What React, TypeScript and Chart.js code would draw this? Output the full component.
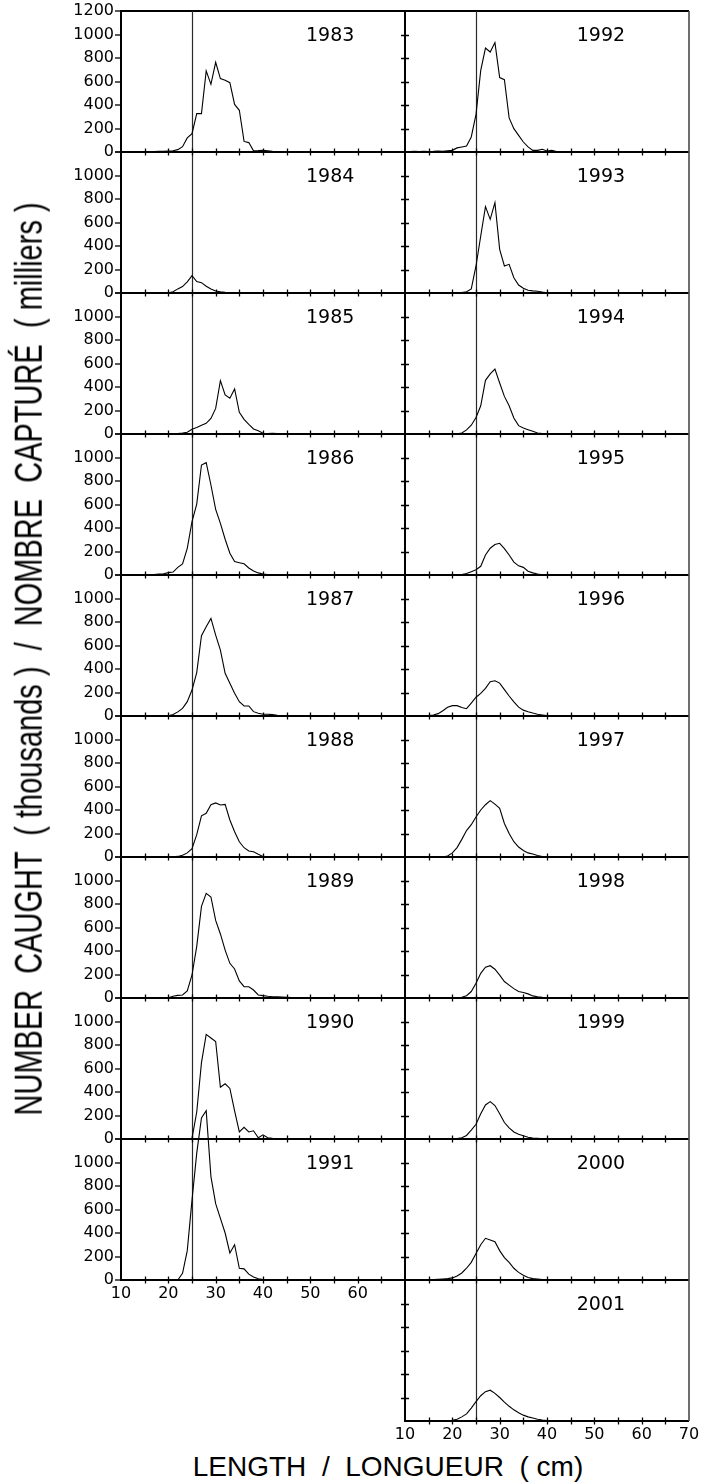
import React, { useEffect, useRef } from "react";
import { Chart, registerables } from "chart.js";

Chart.register(...registerables);

// ---------- DATA ----------
const LENGTHS = [10, 11, 12, 13, 14, 15, 16, 17, 18, 19, 20, 21, 22, 23, 24, 25, 26, 27, 28, 29, 30, 31, 32, 33, 34, 35, 36, 37, 38, 39, 40, 41, 42, 43, 44, 45, 46, 47];

const LEFT_YEARS = ["1983", "1984", "1985", "1986", "1987", "1988", "1989", "1990", "1991"];
const RIGHT_YEARS = ["1992", "1993", "1994", "1995", "1996", "1997", "1998", "1999", "2000", "2001"];

const Y1983 = [0, 0, 0, 0, 0, 0, 2, 3, 5, 5, 8, 10, 20, 45, 120, 156, 327, 327, 690, 576, 763, 625, 610, 590, 405, 355, 90, 80, 10, 12, 15, 10, 5, 3, 1, 0, 0, 0];
const Y1984 = [0, 0, 0, 0, 0, 0, 0, 0, 0, 0, 2, 10, 35, 55, 95, 147, 98, 88, 58, 35, 17, 10, 5, 3, 2, 1, 0, 0, 0, 0, 0, 0, 0, 0, 0, 0, 0, 0];
const Y1985 = [0, 0, 0, 0, 0, 0, 0, 0, 0, 0, 0, 2, 4, 8, 15, 40, 55, 75, 91, 133, 218, 454, 333, 305, 383, 184, 125, 82, 43, 28, 6, 3, 5, 3, 1, 0, 0, 0];
const Y1986 = [0, 0, 0, 0, 0, 0, 0, 3, 9, 10, 20, 25, 65, 94, 227, 454, 604, 936, 956, 766, 559, 440, 304, 185, 115, 105, 95, 60, 35, 18, 8, 4, 2, 0, 0, 0, 0, 0];
const Y1987 = [0, 0, 0, 0, 0, 0, 0, 0, 0, 0, 2, 12, 35, 65, 122, 221, 370, 684, 760, 831, 689, 560, 363, 278, 193, 122, 85, 85, 37, 23, 15, 15, 12, 5, 2, 0, 0, 0];
const Y1988 = [0, 0, 0, 0, 0, 0, 0, 0, 0, 0, 0, 2, 5, 15, 35, 70, 190, 350, 372, 445, 460, 443, 448, 315, 215, 130, 79, 51, 45, 23, 5, 1, 0, 0, 0, 0, 0, 0];
const Y1989 = [0, 0, 0, 0, 0, 0, 0, 0, 0, 0, 2, 15, 22, 26, 60, 196, 440, 780, 891, 860, 660, 545, 408, 295, 247, 145, 96, 96, 68, 26, 20, 15, 11, 10, 8, 6, 3, 0];
const Y1990 = [0, 0, 0, 0, 0, 0, 0, 0, 0, 0, 0, 0, 0, 0, 0, 5, 230, 650, 890, 860, 830, 440, 470, 430, 240, 60, 100, 60, 70, 10, 35, 10, 5, 3, 0, 0, 0, 0];
const Y1991 = [0, 0, 0, 0, 0, 0, 0, 0, 0, 0, 0, 0, 0, 57, 250, 680, 1080, 1380, 1441, 880, 650, 525, 400, 230, 300, 100, 95, 50, 25, 10, 3, 0, 0, 0, 0, 0, 0, 0];

const Y1992 = [0, 3, 5, 3, 5, 3, 5, 8, 5, 10, 14, 35, 43, 51, 128, 320, 695, 885, 851, 931, 633, 616, 290, 199, 142, 85, 43, 14, 14, 23, 9, 14, 3, 0, 0, 0, 0, 0];
const Y1993 = [0, 0, 0, 0, 0, 0, 0, 0, 0, 0, 0, 0, 3, 10, 35, 230, 485, 735, 627, 769, 372, 230, 244, 130, 68, 40, 23, 18, 15, 8, 2, 0, 0, 0, 0, 0, 0, 0];
const Y1994 = [0, 0, 0, 0, 0, 0, 0, 0, 0, 0, 0, 2, 9, 35, 75, 140, 240, 457, 511, 553, 434, 320, 241, 136, 71, 51, 37, 23, 9, 3, 0, 0, 0, 0, 0, 0, 0, 0];
const Y1995 = [0, 0, 0, 0, 0, 0, 0, 0, 0, 0, 0, 0, 4, 12, 28, 45, 74, 170, 228, 260, 270, 225, 170, 110, 78, 65, 32, 18, 8, 2, 0, 0, 0, 0, 0, 0, 0, 0];
const Y1996 = [0, 0, 0, 0, 0, 3, 8, 20, 45, 75, 88, 88, 72, 62, 110, 160, 193, 235, 292, 300, 280, 225, 170, 120, 75, 50, 37, 25, 15, 9, 3, 0, 0, 0, 0, 0, 0, 0];
const Y1997 = [0, 0, 0, 0, 0, 0, 0, 0, 2, 8, 35, 80, 150, 225, 275, 340, 400, 445, 480, 450, 415, 285, 200, 130, 85, 55, 35, 25, 12, 4, 0, 0, 0, 0, 0, 0, 0, 0];
const Y1998 = [0, 0, 0, 0, 0, 0, 0, 0, 0, 0, 0, 2, 6, 20, 55, 125, 210, 262, 275, 245, 195, 140, 110, 80, 55, 47, 35, 18, 10, 6, 3, 0, 0, 0, 0, 0, 0, 0];
const Y1999 = [0, 0, 0, 0, 0, 0, 0, 0, 0, 0, 0, 3, 10, 30, 75, 125, 215, 290, 318, 285, 215, 140, 95, 60, 40, 28, 15, 8, 5, 2, 0, 0, 0, 0, 0, 0, 0, 0];
const Y2000 = [0, 0, 0, 0, 0, 0, 3, 6, 9, 12, 18, 35, 60, 100, 150, 225, 300, 355, 340, 326, 250, 190, 150, 100, 65, 40, 22, 12, 9, 4, 0, 0, 0, 0, 0, 0, 0, 0];
const Y2001 = [0, 0, 0, 0, 0, 0, 0, 0, 0, 2, 6, 15, 35, 60, 110, 165, 215, 250, 262, 235, 200, 160, 125, 95, 70, 50, 35, 25, 15, 8, 4, 0, 0, 0, 0, 0, 0, 0];

const LEFT_SERIES = [Y1983, Y1984, Y1985, Y1986, Y1987, Y1988, Y1989, Y1990, Y1991];
const RIGHT_SERIES = [Y1992, Y1993, Y1994, Y1995, Y1996, Y1997, Y1998, Y1999, Y2000, Y2001];

const X_MIN = 10;
const X_MAX = 70;
const Y_MAX = 1200;
const REF_LENGTH = 25;
const X_MINOR_TICKS = [15, 20, 25, 30, 35, 40, 45, 50, 55, 60, 65];
const Y_BOUNDARY_TICKS = [200, 400, 600, 800, 1000];
const YEAR_LABEL_VALUE = 985;

const Y_TITLE = "NUMBER  CAUGHT  ( thousands )  /  NOMBRE  CAPTURÉ  ( milliers )";
const X_TITLE = "LENGTH  /  LONGUEUR  ( cm)";

// ---------- STYLE ----------
const TICK_FONT = "'DejaVu Sans', 'Liberation Sans', Arial, sans-serif";
const TITLE_FONT = "'Liberation Sans', Arial, sans-serif";

const decorPlugin = {
  id: "decor",
  beforeDatasetsDraw(chart: any, _a: any, o: any) {
    const { ctx, chartArea } = chart;
    const xs = chart.scales.x;
    const px = Math.round(xs.getPixelForValue(o.refLength)) + 0.5;
    ctx.save();
    ctx.strokeStyle = "#2a2a2a";
    ctx.lineWidth = 1.2;
    ctx.beginPath();
    ctx.moveTo(px, chartArea.top);
    ctx.lineTo(px, chartArea.bottom);
    ctx.stroke();
    ctx.restore();
  },
  afterDatasetsDraw(chart: any, _a: any, o: any) {
    const { ctx, chartArea } = chart;
    const xs = chart.scales.x;
    ctx.save();
    ctx.strokeStyle = "#000";
    ctx.lineWidth = 1.3;
    (o.years as string[]).forEach((yr, i) => {
      const ys = chart.scales["y" + i];
      const y0 = ys.getPixelForValue(0);
      ctx.beginPath();
      for (const v of X_MINOR_TICKS) {
        const p = Math.round(xs.getPixelForValue(v)) + 0.5;
        ctx.moveTo(p, y0 - 3.5);
        ctx.lineTo(p, y0 + 3.5);
      }
      ctx.stroke();
      if (o.boundaryTicks) {
        ctx.beginPath();
        for (const v of Y_BOUNDARY_TICKS) {
          const p = Math.round(ys.getPixelForValue(v)) + 0.5;
          ctx.moveTo(chartArea.left - 4, p);
          ctx.lineTo(chartArea.left + 4, p);
        }
        ctx.stroke();
      }
      ctx.save();
      ctx.font = `19px ${TICK_FONT}`;
      ctx.fillStyle = "#000";
      ctx.textAlign = "center";
      ctx.textBaseline = "middle";
      ctx.fillText(yr, xs.getPixelForValue(o.yearX), ys.getPixelForValue(YEAR_LABEL_VALUE));
      ctx.restore();
    });
    if (o.rightBorder) {
      ctx.strokeStyle = "#4a4a4a";
      ctx.lineWidth = 1.6;
      ctx.beginPath();
      ctx.moveTo(chartArea.right, chartArea.top);
      ctx.lineTo(chartArea.right, chartArea.bottom);
      ctx.stroke();
    }
    ctx.restore();
  },
};

function buildConfig(
  years: string[],
  series: number[][],
  isLeft: boolean,
  yAxisWidth: number,
  padRight: number
): any {
  const scales: any = {
    x: {
      type: "linear",
      position: "bottom",
      min: X_MIN,
      max: X_MAX,
      grid: { display: false, drawTicks: false },
      border: { display: false },
      ticks: {
        stepSize: 10,
        autoSkip: false,
        maxRotation: 0,
        padding: 4,
        color: "#000",
        font: { family: TICK_FONT, size: 16 },
        callback: (v: number) => (isLeft && v === X_MAX ? "" : String(v)),
      },
      afterFit: (s: any) => {
        s.height = 30;
      },
    },
  };
  years.forEach((_, i) => {
    scales["y" + i] = {
      type: "linear",
      position: "left",
      stack: "col",
      stackWeight: 1,
      weight: 100 - i,
      min: 0,
      max: Y_MAX,
      ticks: {
        display: isLeft,
        stepSize: 200,
        autoSkip: false,
        padding: 1,
        color: "#000",
        font: { family: TICK_FONT, size: 16 },
        callback: (v: number) => (v === Y_MAX && i !== 0 ? "" : String(v)),
      },
      grid: {
        drawOnChartArea: true,
        drawTicks: isLeft,
        tickLength: 6,
        tickColor: "#000",
        tickWidth: 1.3,
        lineWidth: 2,
        color: (c: any) =>
          c.tick && (c.tick.value === 0 || (i === 0 && c.tick.value === Y_MAX)) ? "#000" : "rgba(0,0,0,0)",
      },
      border: { display: true, color: "#000", width: 2 },
      afterFit: (s: any) => {
        s.width = yAxisWidth;
      },
    };
  });

  return {
    type: "line",
    data: {
      datasets: series.map((s, i) => ({
        label: years[i],
        data: LENGTHS.map((x, k) => ({ x, y: s[k] })),
        xAxisID: "x",
        yAxisID: "y" + i,
        borderColor: "#000",
        borderWidth: 1.1,
        pointRadius: 0,
        tension: 0,
        fill: false,
        clip: false,
      })),
    },
    options: {
      responsive: false,
      animation: false,
      layout: { padding: { top: 11, right: padRight, bottom: 0, left: 0 } },
      plugins: {
        legend: { display: false },
        tooltip: { enabled: false },
        decor: {
          years,
          refLength: REF_LENGTH,
          yearX: isLeft ? 54.2 : 51.4,
          boundaryTicks: !isLeft,
          rightBorder: !isLeft,
        },
      },
      scales,
    },
    plugins: [decorPlugin],
  };
}

export default function App() {
  const leftRef = useRef<HTMLCanvasElement>(null);
  const rightRef = useRef<HTMLCanvasElement>(null);

  useEffect(() => {
    const c1 = new Chart(leftRef.current as HTMLCanvasElement, buildConfig(LEFT_YEARS, LEFT_SERIES, true, 121, 15));
    const c2 = new Chart(rightRef.current as HTMLCanvasElement, buildConfig(RIGHT_YEARS, RIGHT_SERIES, false, 15, 17));
    return () => {
      c1.destroy();
      c2.destroy();
    };
  }, []);

  return (
    <div style={{ position: "absolute", left: 0, top: 0, width: 706, height: 1483, background: "#fff", overflow: "hidden" }}>
      <canvas ref={leftRef} width={420} height={1310} style={{ position: "absolute", left: 0, top: 0, display: "block" }} />
      <canvas ref={rightRef} width={316} height={1451} style={{ position: "absolute", left: 390, top: 0, display: "block" }} />
      <div
        style={{
          position: "absolute",
          left: 29,
          top: 659,
          transform: "translate(-50%, -50%) rotate(-90deg) scaleY(1.35)",
          fontFamily: TITLE_FONT,
          fontSize: 29,
          lineHeight: "29px",
          whiteSpace: "pre",
          color: "#000",
        }}
      >
        {Y_TITLE}
      </div>
      <div
        style={{
          position: "absolute",
          left: 388,
          top: 1453,
          transform: "translateX(-50%)",
          fontFamily: TITLE_FONT,
          fontSize: 28,
          lineHeight: "28px",
          whiteSpace: "pre",
          color: "#000",
        }}
      >
        {X_TITLE}
      </div>
    </div>
  );
}
